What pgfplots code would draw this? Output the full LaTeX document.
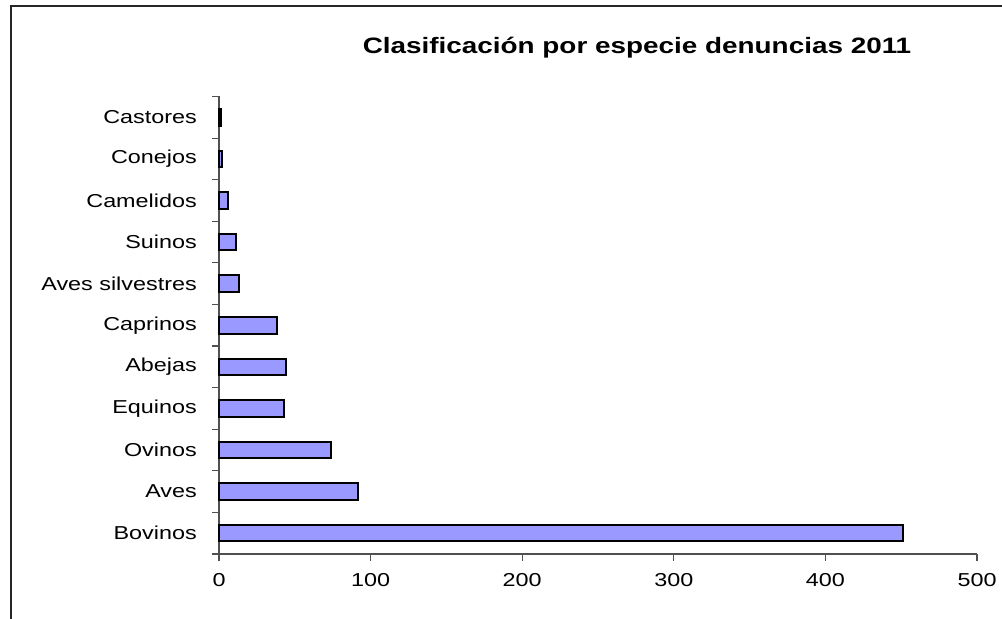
\documentclass[border=0pt]{standalone}
\usepackage{fontspec}
\setmainfont[FakeStretch=1.25]{Liberation Sans}
\usepackage{pgfplots}
\pgfplotsset{compat=1.18}
\definecolor{barfill}{RGB}{153,153,255}
\definecolor{axgray}{RGB}{80,80,80}
\pgfplotstableread{
y val
0 451
1 92
2 74
3 43
4 44
5 38
6 13
7 11
8 6
9 2
10 1
}\datatable
\begin{document}
\begin{tikzpicture}[x=1bp,y=1bp]
\useasboundingbox (0,0) rectangle (1002,619);
\draw[line width=2bp, color=black!85] (11,0) -- (11,613) -- (1002,613);
\node[anchor=base, font=\fontsize{22.3bp}{26bp}\selectfont\bfseries] at (637,565) {Clasificación por especie denuncias 2011};
\begin{axis}[
  at={(219bp,65bp)}, anchor=south west,
  scale only axis, width=758bp, height=457.5bp,
  xmin=0, xmax=500, ymin=-0.5, ymax=10.5,
  axis x line*=bottom, axis y line*=left,
  axis line style={color=axgray, line width=1.1bp},
  tick style={color=axgray, line width=1.1bp},
  tick align=outside, major tick length=7bp,
  xtick={0,100,...,500},
  ytick={-0.5,0.5,...,10.5},
  y tick label as interval,
  yticklabels={Bovinos,Aves,Ovinos,Equinos,Abejas,Caprinos,Aves silvestres,Suinos,Camelidos,Conejos,Castores},
  /pgf/number format/assume math mode=true,
  ticklabel style={font=\fontsize{18.7bp}{22bp}\selectfont, inner sep=0pt},
  yticklabel style={anchor=east, xshift=-15bp},
  xticklabel style={anchor=north, yshift=-12bp},
  xbar, bar width=16.6bp,
  clip=false,
]
\addplot[draw=black, line width=2bp, fill=barfill] table[x=val, y=y] {\datatable};
\end{axis}
\end{tikzpicture}
\end{document}
